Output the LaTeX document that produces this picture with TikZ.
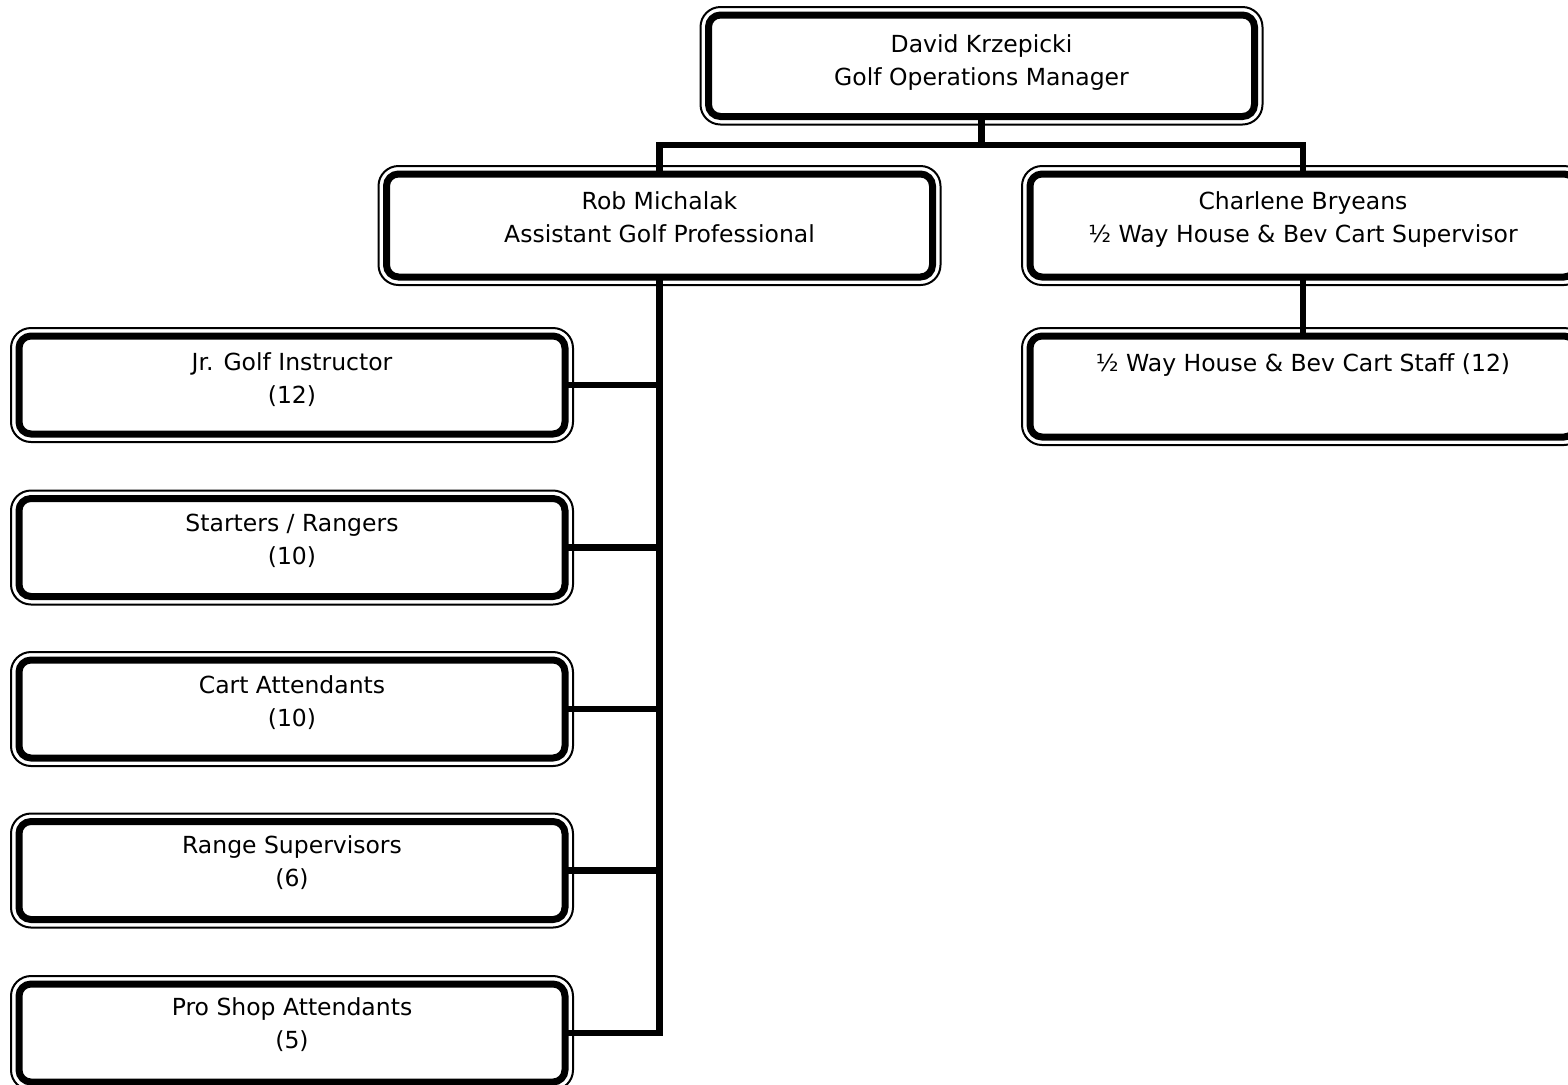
\documentclass[tikz,border=0pt]{standalone}
\usepackage{fontspec}
\setmainfont{DejaVu Sans}
\tikzset{
  orgbox/.style={draw, line width=3.5pt, rounded corners=6pt, minimum width=273pt,
    inner sep=0pt, outer sep=0pt},
  orgframe/.style={draw, line width=1pt, rounded corners=10pt},
  orgtext/.style={align=center, inner sep=0pt, font=\fontsize{11.75pt}{16.5pt}\selectfont},
  link/.style={line width=3.25pt},
}
% name, x, y, height (pt), text y, text
\newcommand{\orgunit}[6]{%
  \node[orgbox, minimum height=#4] (#1) at (#2,#3) {};
  \draw[orgframe] ([shift={(-8,-8)}]#1.north west) rectangle ([shift={(8,8)}]#1.south east);
  \node[orgtext] (#1-t) at (#2,#5) {#6};
}
\begin{document}
\begin{tikzpicture}[x=0.5pt,y=-0.5pt]
\useasboundingbox (0,0) rectangle (1568,1084);
\fill[white] (0,0) rectangle (1568,1084);
\clip (0,0) rectangle (1568,1084);

\orgunit{top}{981.5}{65.75}{50.75pt}{62.5}{David Krzepicki\\Golf Operations Manager}
\orgunit{rob}{659.5}{225.5}{51.5pt}{217.5}{Rob Michalak\\Assistant Golf Professional}
\orgunit{char}{1303}{225.5}{51.5pt}{219.5}{Charlene Bryeans\\½ Way House \& Bev Cart Supervisor}
\orgunit{staff}{1303}{386.5}{50.5pt}{365}{½ Way House \& Bev Cart Staff (12)}
\orgunit{jr}{292}{385}{49pt}{379.5}{Jr. Golf Instructor\\(12)}
\orgunit{start}{292}{547.5}{49pt}{540.5}{Starters / Rangers\\(10)}
\orgunit{cart}{292}{709}{49pt}{702.5}{Cart Attendants\\(10)}
\orgunit{range}{292}{870.5}{49pt}{862.5}{Range Supervisors\\(6)}
\orgunit{pro}{292}{1033}{49pt}{1024.5}{Pro Shop Attendants\\(5)}

\coordinate (j1) at (981.5,145);
\draw[link] (top.south) -- (j1);
\draw[link] (rob.north) |- (j1) -| (char.north);
\draw[link] (char.south) -- (staff.north);
\foreach \n in {jr,start,cart,range}
  \draw[link] (\n.east) -| (rob.south);
\draw[link, line join=miter] (rob.south) |- (pro.east);
\end{tikzpicture}
\end{document}
